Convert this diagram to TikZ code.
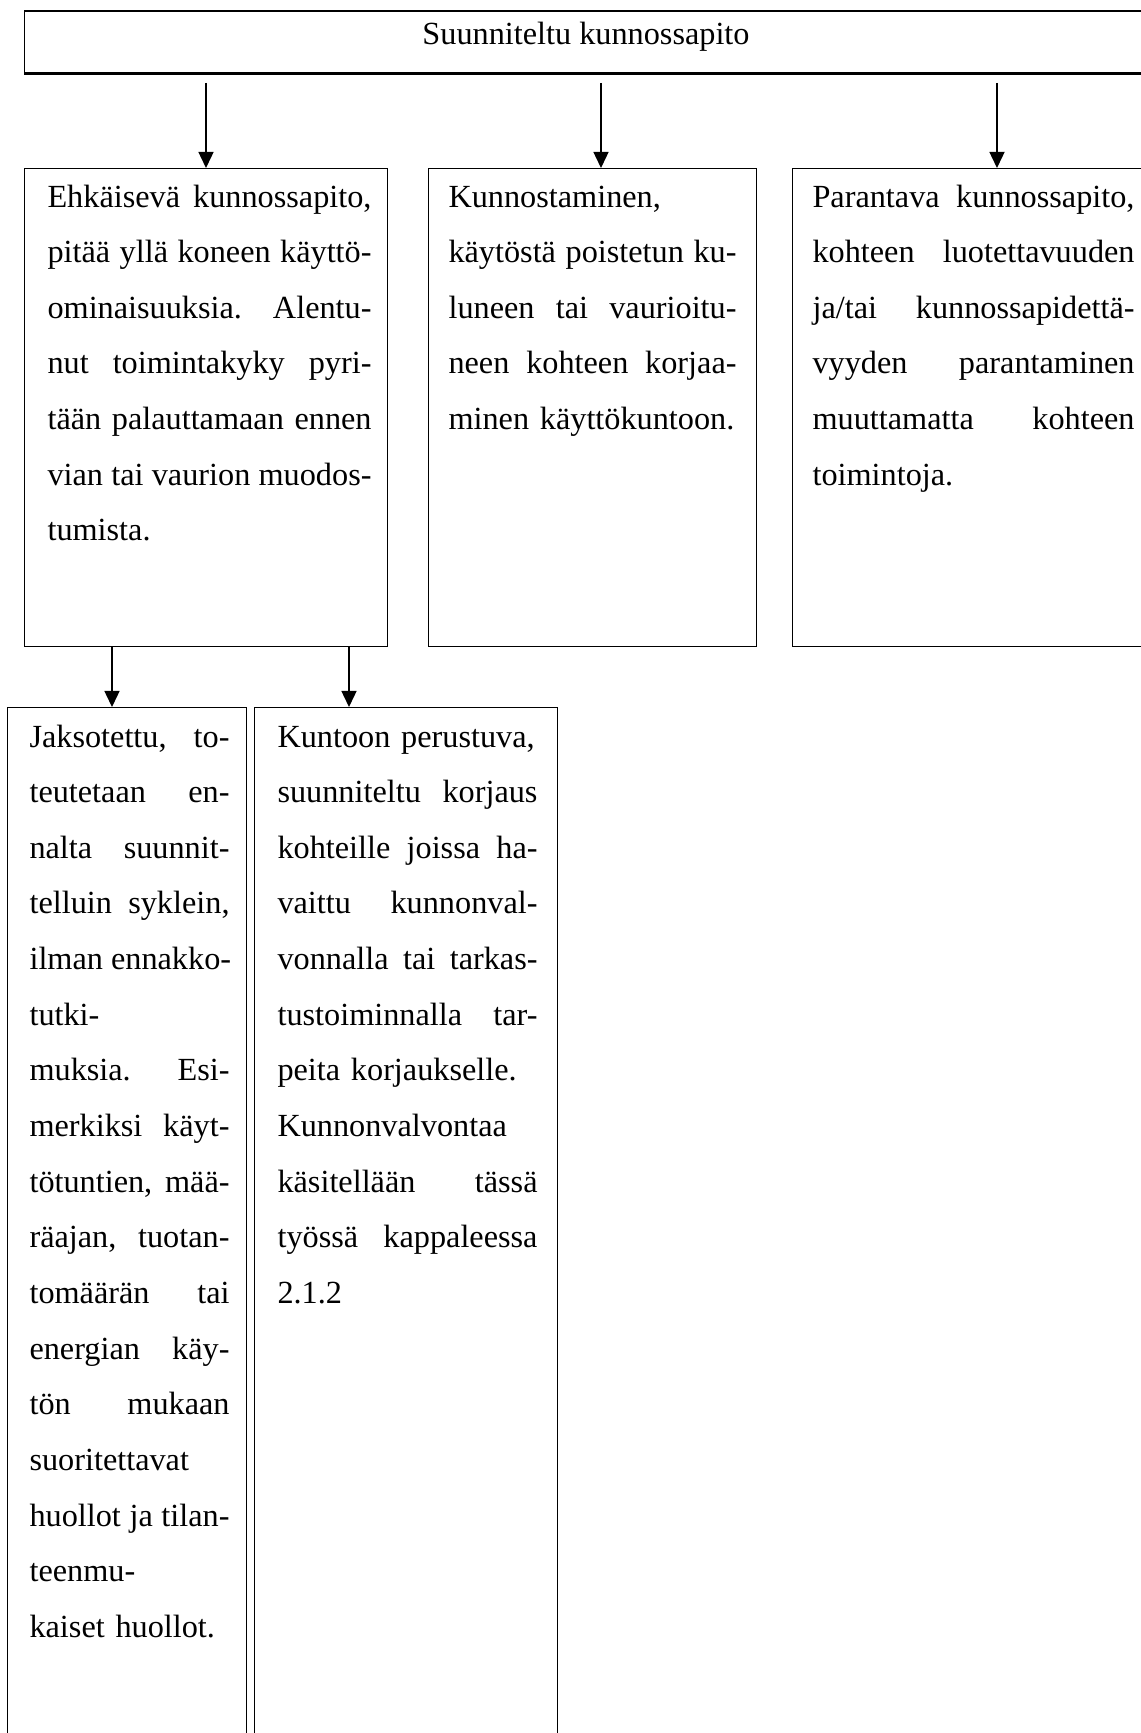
\documentclass[tikz,border=0pt]{standalone}
\usepackage{fontspec}
\setmainfont{Liberation Serif}
\usetikzlibrary{arrows.meta}

\newcommand{\pxu}{0.372pt}
\newcommand{\jl}[1]{\leavevmode\hbox to\hsize{\spaceskip=0.25em plus 1fil\relax#1}}

\begin{document}
\begin{tikzpicture}[x=0.372pt, y=-0.372pt, >={Triangle[length=6pt, width=5.6pt]},
    cell/.style 2 args={draw, line width=0.5pt, anchor=north west, inner sep=0pt,
        minimum width=#1*\pxu, minimum height=#2*\pxu},
    txt/.style={anchor=base west, inner sep=0pt,
        font=\fontsize{12pt}{20.7pt}\selectfont\frenchspacing},
    arr/.style={->, line width=0.6pt}]

    \useasboundingbox (0,0) rectangle (1141,1733);

    % Top level
    \node[cell={1134}{61}] (plan) at (24,11) {};
    \draw[line width=1pt] (plan.north west) -- (plan.north east);
    \draw[line width=1pt] (plan.south west) -- (plan.south east);
    \node[txt, anchor=base] (plan-t) at (586,44) {Suunniteltu kunnossapito};

    % Second level
    \node[cell={363}{478}] (ehk) at (24,168) {};
    \node[cell={328}{478}] (kun) at (428,168) {};
    \node[cell={364}{478}] (par) at (792,168) {};

    \node[txt, text width=324*\pxu] (ehk-t) at (47,207) {%
        \jl{Ehkäisevä kunnossapito,}\\
        \jl{pitää yllä koneen käyttö-}\\
        \jl{ominaisuuksia. Alentu-}\\
        \jl{nut toimintakyky pyri-}\\
        \jl{tään palauttamaan ennen}\\
        \jl{vian tai vaurion muodos-}\\
        tumista.};
    \node[txt, text width=288*\pxu] (kun-t) at (448,207) {%
        Kunnostaminen,\\
        \jl{käytöstä poistetun ku-}\\
        \jl{luneen tai vaurioitu-}\\
        \jl{neen kohteen korjaa-}\\
        minen käyttökuntoon.};
    \node[txt, text width=322*\pxu] (par-t) at (812,207) {%
        \jl{Parantava kunnossapito,}\\
        \jl{kohteen luotettavuuden}\\
        \jl{ja/tai kunnossapidettä-}\\
        \jl{vyyden parantaminen}\\
        \jl{muuttamatta kohteen}\\
        toimintoja.};

    % Third level (runs past the page)
    \node[cell={239}{1060}] (jak) at (7,707) {};
    \node[cell={303}{1060}] (kto) at (254,707) {};

    \node[txt, text width=200*\pxu] (jak-t) at (29,747) {%
        \jl{Jaksotettu, to-}\\
        \jl{teutetaan en-}\\
        \jl{nalta suunnit-}\\
        \jl{telluin syklein,}\\
        \jl{ilman ennakko-}\\
        tutki-\\
        \jl{muksia. Esi-}\\
        \jl{merkiksi käyt-}\\
        \jl{tötuntien, mää-}\\
        \jl{räajan, tuotan-}\\
        \jl{tomäärän tai}\\
        \jl{energian käy-}\\
        \jl{tön mukaan}\\
        suoritettavat\\
        \jl{huollot ja tilan-}\\
        teenmu-\\
        kaiset huollot.};
    \node[txt, text width=260*\pxu] (kto-t) at (277,747) {%
        Kuntoon perustuva,\\
        \jl{suunniteltu korjaus}\\
        \jl{kohteille joissa ha-}\\
        \jl{vaittu kunnonval-}\\
        \jl{vonnalla tai tarkas-}\\
        \jl{tustoiminnalla tar-}\\
        peita korjaukselle.\\
        Kunnonvalvontaa\\
        \jl{käsitellään tässä}\\
        \jl{työssä kappaleessa}\\
        2.1.2};

    % Arrows
    \coordinate (ehk-in) at (206,168);
    \coordinate (kun-in) at (601,168);
    \coordinate (par-in) at (997,168);
    \coordinate (jak-in) at (112,707);
    \coordinate (kto-in) at (349,707);

    \draw[arr, shorten <=3.5pt] (ehk-in |- plan.south) -- (ehk-in);
    \draw[arr, shorten <=3.5pt] (kun-in |- plan.south) -- (kun-in);
    \draw[arr, shorten <=3.5pt] (par-in |- plan.south) -- (par-in);
    \draw[arr] (jak-in |- ehk.south) -- (jak-in);
    \draw[arr] (kto-in |- ehk.south) -- (kto-in);

\end{tikzpicture}
\end{document}
